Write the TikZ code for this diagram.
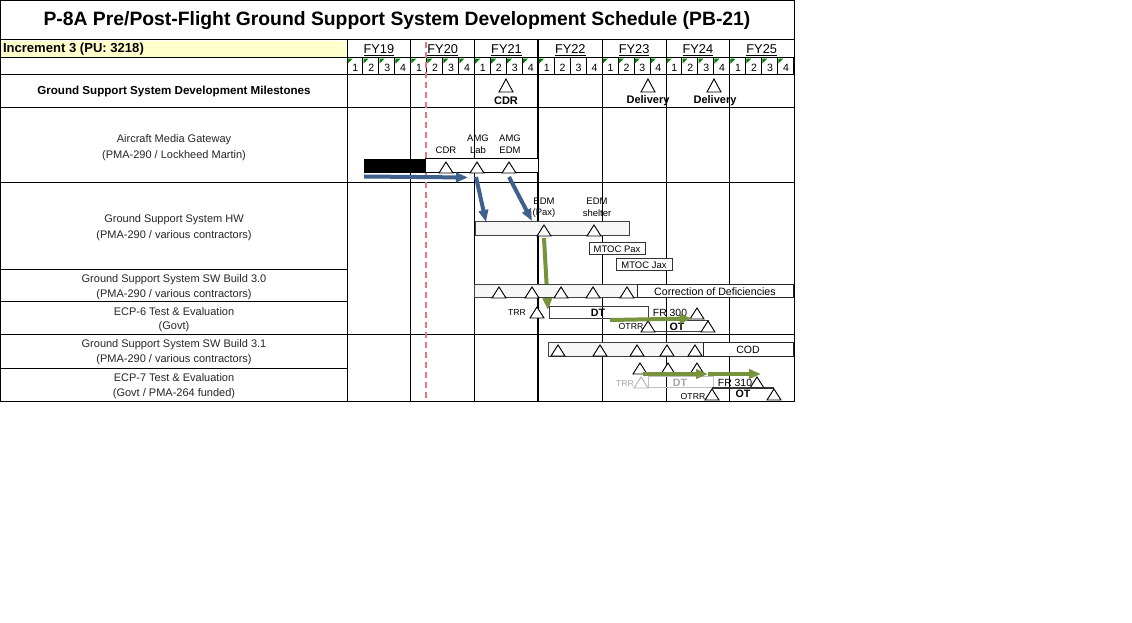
\documentclass[tikz,border=0pt]{standalone}
\usepackage{fontspec}
\setmainfont{Liberation Sans}
\usetikzlibrary{arrows.meta}
\definecolor{arrblue}{RGB}{62,96,140}
\definecolor{arrgreen}{RGB}{119,147,60}
\definecolor{incyellow}{RGB}{255,255,204}
\definecolor{redline}{RGB}{232,120,120}
\definecolor{cellgreen}{RGB}{0,128,0}
\definecolor{barfill}{RGB}{246,246,246}
\newcommand\FS[1]{\fontsize{#1}{#1}\selectfont}
\tikzset{
  grid/.style={draw=black, line width=0.75pt},
  barline/.style={draw=black!75, line width=0.75pt},
  txt/.style={inner sep=0pt, outer sep=0pt, text=black},
  rowlbl/.style={txt, font=\FS{8.25pt}, text=black!85},
  small/.style={txt, font=\FS{7.1pt}},
  tiny/.style={txt, font=\FS{6.5pt}},
  bolds/.style={txt, font=\bfseries\FS{8pt}},
  mtri/.pic={\draw[black, fill=white, line width=0.7pt] (-7,0) -- (7,0) -- (0,-11) -- cycle;},
  mtrigray/.pic={\draw[black!30, fill=white, line width=0.7pt] (-7,0) -- (7,0) -- (0,-11) -- cycle;},
  mtribig/.pic={\draw[black, fill=white, line width=0.7pt] (-7,0) -- (7,0) -- (0,-13) -- cycle;},
  bluearrow/.style={draw=arrblue, line width=3pt, -{Triangle[length=9pt,width=7pt]}},
  greenarrow/.style={draw=arrgreen, line width=3pt, -{Triangle[length=9pt,width=7pt]}},
}
\begin{document}
\begin{tikzpicture}[x=0.75pt,y=-0.75pt]
\useasboundingbox (0,0) rectangle (1132,623);
\fill[white] (0,0) rectangle (1132,623);

% ---------- title ----------
\node[txt, font=\bfseries\FS{14.5pt}] (title) at (397,21) {P-8A Pre/Post-Flight Ground Support System Development Schedule (PB-21)};

% ---------- increment cell ----------
\fill[incyellow] (1,41) rectangle (346,57);
\node[txt, font=\bfseries\FS{9.8pt}, anchor=west] (incr) at (3,49.5) {Increment 3 (PU: 3218)};

% ---------- FY headers ----------
\foreach \k/\lab in {0/FY19,1/FY20,2/FY21,3/FY22,4/FY23,5/FY24,6/FY25}{
  \node[txt, font=\FS{9.6pt}] (fy\k) at (347+63.8*\k+31.9,50) {\underline{\lab}};
}

% ---------- quarter row ----------
\foreach \k in {0,...,6}{
  \foreach \q in {0,...,3}{
    \pgfmathsetmacro\xa{347+63.8*\k+15.95*\q}
    \draw[grid] (\xa,58) rectangle ++(15.95,17);
    \node[txt, font=\FS{7.9pt}] (q\k\q) at (\xa+8.3,67.5) {\the\numexpr\q+1\relax};
    \ifnum\k=3 \ifnum\q>0 \else
      \fill[cellgreen] (\xa+0.6,58.6) -- ++(5,0) -- ++(-5,5) -- cycle;
    \fi\else
      \fill[cellgreen] (\xa+0.6,58.6) -- ++(5,0) -- ++(-5,5) -- cycle;
    \fi
  }
}

% ---------- grid lines ----------
\draw[grid] (0.5,0.5) -- (794,0.5) -- (794,401.5) -- (0.5,401.5) -- cycle;
\foreach \y in {40,58,75,108,183,335}{ \draw[grid] (0.5,\y) -- (794,\y); }
\foreach \y in {270,302,369}{ \draw[grid] (0.5,\y) -- (347,\y); }
\draw[grid] (347,40) -- (347,401.5);
\foreach \k in {1,2,4,5,6}{ \draw[grid] (347+63.8*\k,40) -- (347+63.8*\k,401.5); }
\draw[draw=black, line width=1.6pt] (538.4,40) -- (538.4,401.5);
\draw[redline, line width=1pt, dash pattern=on 4.5pt off 3pt] (426,42) -- (426,401);

% ---------- row labels ----------
\node[txt, font=\bfseries\FS{8.7pt}] (mslbl) at (174,92) {Ground Support System Development Milestones};
\node[rowlbl] (r1a) at (174,140) {Aircraft Media Gateway};
\node[rowlbl] (r1b) at (174,155.5) {(PMA-290 / Lockheed Martin)};
\node[rowlbl] (r2a) at (174,219.5) {Ground Support System HW};
\node[rowlbl] (r2b) at (174,236) {(PMA-290 / various contractors)};
\node[rowlbl] (r3a) at (174,279.5) {Ground Support System SW Build 3.0};
\node[rowlbl] (r3b) at (174,295) {(PMA-290 / various contractors)};
\node[rowlbl] (r4a) at (174,311.5) {ECP-6 Test \& Evaluation};
\node[rowlbl] (r4b) at (174,326.5) {(Govt)};
\node[rowlbl] (r5a) at (174,344.5) {Ground Support System SW Build 3.1};
\node[rowlbl] (r5b) at (174,360) {(PMA-290 / various contractors)};
\node[rowlbl] (r6a) at (174,378) {ECP-7 Test \& Evaluation};
\node[rowlbl] (r6b) at (174,393.5) {(Govt / PMA-264 funded)};

% ---------- milestones row ----------
\pic at (506,92) {mtribig};
\pic at (648,92) {mtribig};
\pic at (714,92) {mtribig};
\node[txt, font=\bfseries\FS{8.25pt}] (mcdr) at (506,100.5) {CDR};
\node[txt, font=\bfseries\FS{8.25pt}] (mdel1) at (648,100.5) {Delivery};
\node[txt, font=\bfseries\FS{8.25pt}] (mdel2) at (715,100.5) {Delivery};

% ---------- AMG row ----------
\fill[black] (364,159) rectangle (425,173);
\draw[barline, draw=black, fill=white] (425,159) rectangle (538,173);
\pic at (446,173) {mtri};
\pic at (477,173) {mtri};
\pic at (509,173) {mtri};
\node[small] (acdr) at (446,150.5) {CDR};
\node[small] (alab1) at (478,138.5) {AMG};
\node[small] (alab2) at (478,150.5) {Lab};
\node[small] (aedm1) at (510,138.5) {AMG};
\node[small] (aedm2) at (510,150.5) {EDM};
\coordinate (b1s) at (364,176.5);
\coordinate (b1e) at (468,177.5);
\coordinate (b2s) at (476,177);
\coordinate (b2e) at (486,222);
\coordinate (b3s) at (509,177);
\coordinate (b3e) at (532,221);
\draw[bluearrow] (b1s) -- (b1e);
\draw[bluearrow] (b2s) -- (b2e);
\draw[bluearrow] (b3s) -- (b3e);

% ---------- GSS HW row ----------
\draw[barline, fill=barfill] (475,222) rectangle (629,236);
\pic at (544,236) {mtri};
\pic at (594,236) {mtri};
\node[small] (h1a) at (544,201) {EDM};
\node[small] (h1b) at (544,213) {(Pax)};
\node[small] (h2a) at (597,201) {EDM};
\node[small] (h2b) at (597,213) {shelter};
\draw[barline, draw=black!80, fill=white] (589,243) rectangle (645,255);
\node[small] (mpax) at (617,249) {MTOC Pax};
\draw[barline, draw=black!80, fill=white] (616,259) rectangle (672,271);
\node[small] (mjax) at (644,265) {MTOC Jax};
\coordinate (g1s) at (544,238);
\coordinate (g1e) at (548,310);
\draw[greenarrow] (g1s) -- (g1e);

% ---------- SW 3.0 row ----------
\draw[barline, fill=barfill] (474,285) rectangle (637,298);
\draw[barline, draw=black!85, fill=white] (637,285) rectangle (793,298);
\foreach \x in {499,532,561,593,627}{ \pic at (\x,298) {mtri}; }
\node[txt, font=\FS{8pt}] (cod1) at (715,292) {Correction of Deficiencies};

% ---------- ECP-6 row ----------
\node[tiny] (trr6) at (517,312.5) {TRR};
\pic at (537,318) {mtri};
\draw[barline] (549,307) rectangle (648,319);
\node[bolds] (dt6) at (598,312.5) {DT};
\node[txt, font=\FS{7.8pt}] (fr300) at (670,312.5) {FR 300};
\pic at (697,319) {mtri};
\draw[barline] (648,321) rectangle (708,332);
\node[tiny] (otrr6) at (631,326.5) {OTRR};
\node[bolds] (ot6) at (677,327) {OT};
\pic at (648,332) {mtri};
\pic at (708,332) {mtri};
\coordinate (g2s) at (610,320);
\coordinate (g2e) at (692,318.5);
\draw[greenarrow] (g2s) -- (g2e);

% ---------- SW 3.1 row ----------
\draw[barline, fill=barfill] (548,343) rectangle (703,357);
\draw[barline, draw=black!85, fill=white] (703,343) rectangle (793,357);
\foreach \x in {558,600,637,667,695}{ \pic at (\x,356) {mtri}; }
\node[txt, font=\FS{7.9pt}] (cod2) at (748,350) {COD};

% ---------- ECP-7 row ----------
\foreach \x in {640,668,697}{ \pic at (\x,374) {mtri}; }
\node[tiny, text=black!35] (trr7) at (625,383.5) {TRR};
\pic at (641,388) {mtrigray};
\draw[draw=black!25, line width=0.75pt] (648,377) rectangle (713,388);
\node[bolds, text=black!35] (dt7) at (680,382.5) {DT};
\node[txt, font=\FS{7.8pt}] (fr310) at (735,383) {FR 310};
\pic at (757,388) {mtri};
\draw[draw=black!80, line width=1.1pt] (712,388) -- (774,388);
\node[tiny] (otrr7) at (693,397) {OTRR};
\node[bolds] (ot7) at (743,393.5) {OT};
\pic at (712,400) {mtri};
\pic at (774,400) {mtri};
\coordinate (g3s) at (643,374);
\coordinate (g3e) at (708,374);
\coordinate (g4s) at (708,374);
\coordinate (g4e) at (761,374);
\draw[greenarrow] (g3s) -- (g3e);
\draw[greenarrow] (g4s) -- (g4e);
\end{tikzpicture}
\end{document}
